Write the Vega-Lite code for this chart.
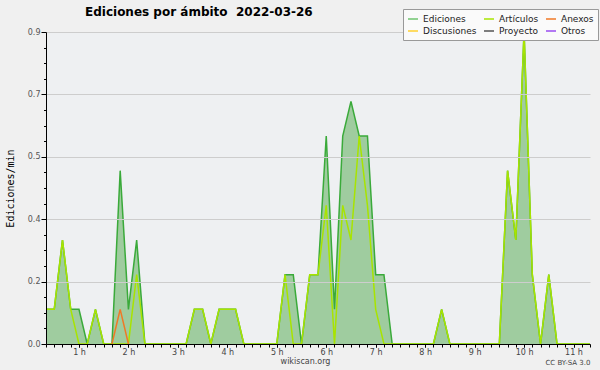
{
  "$schema": "https://vega.github.io/schema/vega-lite/v6.json",
  "width": 544,
  "height": 312,
  "autosize": {"type": "none"},
  "padding": {"left": 46, "top": 32, "right": 10, "bottom": 26},
  "background": "#f0f0f0",
  "title": {"text": "Ediciones por ámbito\u00a0\u00a02022-03-26", "anchor": "start", "frame": "group", "dx": 39, "dy": 23, "offset": 13, "font": "DejaVu Sans", "fontWeight": "bold", "fontSize": 12, "color": "#000000"},
  "config": {"view": {"stroke": null, "fill": "#eef0f2"}, "font": "DejaVu Sans"},
  "datasets": {
    "ed": [
      {"m":20,"v":0.1},{"m":30,"v":0.1},{"m":40,"v":0.3},{"m":50,"v":0.1},{"m":60,"v":0.1},{"m":70,"v":0},{"m":80,"v":0.1},{"m":90,"v":0},{"m":100,"v":0},{"m":110,"v":0.5},{"m":120,"v":0.1},{"m":130,"v":0.3},{"m":140,"v":0},{"m":150,"v":0},{"m":160,"v":0},{"m":170,"v":0},{"m":180,"v":0},{"m":190,"v":0},{"m":200,"v":0.1},{"m":210,"v":0.1},{"m":220,"v":0},{"m":230,"v":0.1},{"m":240,"v":0.1},{"m":250,"v":0.1},{"m":260,"v":0},{"m":270,"v":0},{"m":280,"v":0},{"m":290,"v":0},{"m":300,"v":0},{"m":310,"v":0.2},{"m":320,"v":0.2},{"m":330,"v":0},{"m":340,"v":0.2},{"m":350,"v":0.2},{"m":360,"v":0.6},{"m":370,"v":0.1},{"m":380,"v":0.6},{"m":390,"v":0.7},{"m":400,"v":0.6},{"m":410,"v":0.6},{"m":420,"v":0.2},{"m":430,"v":0.2},{"m":440,"v":0},{"m":450,"v":0},{"m":460,"v":0},{"m":470,"v":0},{"m":480,"v":0},{"m":490,"v":0},{"m":500,"v":0.1},{"m":510,"v":0},{"m":520,"v":0},{"m":530,"v":0},{"m":540,"v":0},{"m":550,"v":0},{"m":560,"v":0},{"m":570,"v":0},{"m":580,"v":0.5},{"m":590,"v":0.3},{"m":600,"v":0.9},{"m":610,"v":0.2},{"m":620,"v":0},{"m":630,"v":0.2},{"m":640,"v":0},{"m":650,"v":0},{"m":660,"v":0},{"m":670,"v":0},{"m":680,"v":0}
    ],
    "ns": [
      {"s":"Artículos","m":20,"v":0.1},{"s":"Artículos","m":30,"v":0.1},{"s":"Artículos","m":40,"v":0.3},{"s":"Artículos","m":50,"v":0.1},{"s":"Artículos","m":60,"v":0},{"s":"Artículos","m":70,"v":0},{"s":"Artículos","m":80,"v":0.1},{"s":"Artículos","m":90,"v":0},{"s":"Artículos","m":100,"v":0},{"s":"Artículos","m":110,"v":0},{"s":"Artículos","m":120,"v":0},{"s":"Artículos","m":130,"v":0.2},{"s":"Artículos","m":140,"v":0},{"s":"Artículos","m":150,"v":0},{"s":"Artículos","m":160,"v":0},{"s":"Artículos","m":170,"v":0},{"s":"Artículos","m":180,"v":0},{"s":"Artículos","m":190,"v":0},{"s":"Artículos","m":200,"v":0.1},{"s":"Artículos","m":210,"v":0.1},{"s":"Artículos","m":220,"v":0},{"s":"Artículos","m":230,"v":0.1},{"s":"Artículos","m":240,"v":0.1},{"s":"Artículos","m":250,"v":0.1},{"s":"Artículos","m":260,"v":0},{"s":"Artículos","m":270,"v":0},{"s":"Artículos","m":280,"v":0},{"s":"Artículos","m":290,"v":0},{"s":"Artículos","m":300,"v":0},{"s":"Artículos","m":310,"v":0.2},{"s":"Artículos","m":320,"v":0},{"s":"Artículos","m":330,"v":0},{"s":"Artículos","m":340,"v":0.2},{"s":"Artículos","m":350,"v":0.2},{"s":"Artículos","m":360,"v":0.4},{"s":"Artículos","m":370,"v":0},{"s":"Artículos","m":380,"v":0.4},{"s":"Artículos","m":390,"v":0.3},{"s":"Artículos","m":400,"v":0.6},{"s":"Artículos","m":410,"v":0.4},{"s":"Artículos","m":420,"v":0.1},{"s":"Artículos","m":430,"v":0},{"s":"Artículos","m":440,"v":0},{"s":"Artículos","m":450,"v":0},{"s":"Artículos","m":460,"v":0},{"s":"Artículos","m":470,"v":0},{"s":"Artículos","m":480,"v":0},{"s":"Artículos","m":490,"v":0},{"s":"Artículos","m":500,"v":0.1},{"s":"Artículos","m":510,"v":0},{"s":"Artículos","m":520,"v":0},{"s":"Artículos","m":530,"v":0},{"s":"Artículos","m":540,"v":0},{"s":"Artículos","m":550,"v":0},{"s":"Artículos","m":560,"v":0},{"s":"Artículos","m":570,"v":0},{"s":"Artículos","m":580,"v":0.5},{"s":"Artículos","m":590,"v":0.3},{"s":"Artículos","m":600,"v":0.9},{"s":"Artículos","m":610,"v":0.2},{"s":"Artículos","m":620,"v":0},{"s":"Artículos","m":630,"v":0.2},{"s":"Artículos","m":640,"v":0},{"s":"Artículos","m":650,"v":0},{"s":"Artículos","m":660,"v":0},{"s":"Artículos","m":670,"v":0},{"s":"Artículos","m":680,"v":0},
      {"s":"Anexos","m":100,"v":0},{"s":"Anexos","m":110,"v":0.1},{"s":"Anexos","m":120,"v":0}
    ]
  },
  "layer": [
    {
      "layer": [
        {
          "data": {"name": "ed"},
          "mark": {"type": "area", "color": "#9fcc9f", "opacity": 1, "clip": true},
          "encoding": {
            "x": {"field": "m", "type": "quantitative", "scale": {"domain": [20, 680], "nice": false, "zero": false},
              "axis": {"values": [60,120,180,240,300,360,420,480,540,600,660],
                "labelExpr": "(datum.value / 60) + ' h'", "labelOverlap": false, "labelFlush": false,
                "tickSize": 3, "tickColor": "#000000", "domainColor": "#000000", "grid": false, "labelFontSize": 8, "labelColor": "#444444", "labelPadding": 1,
                "title": "wikiscan.org", "titleFontSize": 8, "titleFontWeight": "normal", "titleColor": "#444444", "titlePadding": 1, "titleX": 259, "titleAlign": "center", "zindex": 1}},
            "y": {"field": "v", "type": "quantitative", "scale": {"domain": [0, 0.9], "nice": false},
              "axis": {"values": [0, 0.18, 0.36, 0.54, 0.72, 0.9], "format": ".1f", "tickSize": 5, "tickColor": "#000000", "domainColor": "#000000", "labelFontSize": 8, "labelColor": "#555555", "labelPadding": 1, "gridColor": "#cdcdcd", "title": "Ediciones/min", "titleFont": "DejaVu Sans Mono", "titleFontSize": 10, "titleFontWeight": "normal", "titleColor": "#000000", "titlePadding": 12, "zindex": 1}}
          }
        },
        {
          "data": {"name": "ed"},
          "mark": {"type": "line", "color": "#3aaa3a", "strokeWidth": 1.5, "clip": true},
          "encoding": {"x": {"field": "m", "type": "quantitative"}, "y": {"field": "v", "type": "quantitative"}}
        },
        {
          "data": {"name": "ns"},
          "mark": {"type": "line", "strokeWidth": 1.5, "clip": true},
          "encoding": {
            "x": {"field": "m", "type": "quantitative"},
            "y": {"field": "v", "type": "quantitative"},
            "color": {"field": "s", "type": "nominal",
              "scale": {"domain": ["Ediciones", "Discusiones", "Artículos", "Proyecto", "Anexos", "Otros"], "range": ["#6fc46f", "#ffd030", "#a8e400", "#555555", "#f07826", "#9a4cf0"]},
              "legend": {"orient": "none", "legendX": 357, "legendY": -23, "columns": 3, "title": null, "symbolType": "stroke", "symbolSize": 100, "symbolStrokeWidth": 1.5, "labelFontSize": 9, "labelColor": "#222222", "rowPadding": 1, "columnPadding": 4, "fillColor": "#fafafa", "strokeColor": "#999999", "padding": 4, "labelOffset": 4, "zindex": 3}}
          }
        }
      ]
    },
    {
      "data": {"name": "ed"},
      "mark": {"type": "point", "opacity": 0},
      "encoding": {
        "x": {"field": "m", "type": "quantitative", "scale": {"domain": [20, 680], "nice": false, "zero": false},
          "axis": {"orient": "bottom", "values": [20,30,40,50,60,70,80,90,100,110,120,130,140,150,160,170,180,190,200,210,220,230,240,250,260,270,280,290,300,310,320,330,340,350,360,370,380,390,400,410,420,430,440,450,460,470,480,490,500,510,520,530,540,550,560,570,580,590,600,610,620,630,640,650,660,670,680], "labels": false, "ticks": true, "tickSize": 3, "tickColor": "#000000", "domain": false, "grid": false, "title": "CC BY-SA 3.0", "titleAnchor": "end", "titleFontSize": 7, "titleFontWeight": "normal", "titleColor": "#444444", "titlePadding": 11, "zindex": 1}},
        "y": {"field": "v", "type": "quantitative", "scale": {"domain": [0, 0.9], "nice": false},
          "axis": {"orient": "left", "values": [0.045,0.09,0.135,0.225,0.27,0.315,0.405,0.45,0.495,0.585,0.63,0.675,0.765,0.81,0.855], "labels": false, "tickSize": 2.5, "tickColor": "#000000", "domain": false, "grid": false, "title": null, "zindex": 1}}
      }
    }
  ],
  "resolve": {"scale": {"x": "independent", "y": "independent"}}
}
